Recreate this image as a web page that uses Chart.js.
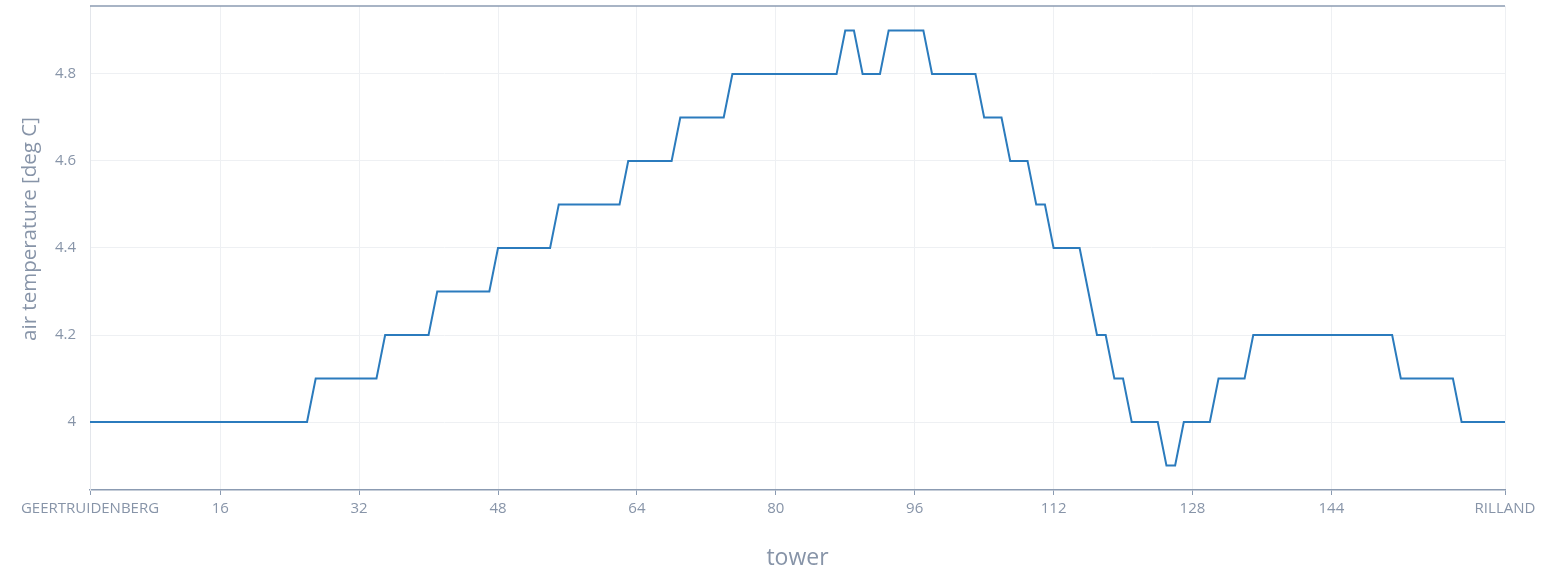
<!DOCTYPE html>
<html>
<head>
<meta charset="utf-8">
<title>Air temperature per tower</title>
<script src="https://cdn.jsdelivr.net/npm/chart.js@4/dist/chart.umd.min.js"></script>
<style>
  html, body { margin: 0; padding: 0; background: #ffffff; }
  #wrap { width: 1557px; height: 574px; position: relative; }
</style>
</head>
<body>
<div id="wrap"><canvas id="chart" width="1557" height="574"></canvas></div>
<script>
// Tower numbers along the line, from GEERTRUIDENBERG (1) to RILLAND (164)
const towers = [
  1, 2, 3, 4, 5, 6, 7, 8, 9, 10, 11, 12, 13, 14, 15, 16, 17, 18, 19, 20,
  21, 22, 23, 24, 25, 26, 27, 28, 29, 30, 31, 32, 33, 34, 35, 36, 37, 38, 39, 40,
  41, 42, 43, 44, 45, 46, 47, 48, 49, 50, 51, 52, 53, 54, 55, 56, 57, 58, 59, 60,
  61, 62, 63, 64, 65, 66, 67, 68, 69, 70, 71, 72, 73, 74, 75, 76, 77, 78, 79, 80,
  81, 82, 83, 84, 85, 86, 87, 88, 89, 90, 91, 92, 93, 94, 95, 96, 97, 98, 99, 100,
  101, 102, 103, 104, 105, 106, 107, 108, 109, 110, 111, 112, 113, 114, 115, 116, 117, 118, 119, 120,
  121, 122, 123, 124, 125, 126, 127, 128, 129, 130, 131, 132, 133, 134, 135, 136, 137, 138, 139, 140,
  141, 142, 143, 144, 145, 146, 147, 148, 149, 150, 151, 152, 153, 154, 155, 156, 157, 158, 159, 160,
  161, 162, 163, 164
];

// Air temperature [deg C] at each tower
const airTemperature = [
  4.0, 4.0, 4.0, 4.0, 4.0, 4.0, 4.0, 4.0, 4.0, 4.0, 4.0, 4.0, 4.0, 4.0, 4.0, 4.0, 4.0, 4.0, 4.0, 4.0,
  4.0, 4.0, 4.0, 4.0, 4.0, 4.0, 4.1, 4.1, 4.1, 4.1, 4.1, 4.1, 4.1, 4.1, 4.2, 4.2, 4.2, 4.2, 4.2, 4.2,
  4.3, 4.3, 4.3, 4.3, 4.3, 4.3, 4.3, 4.4, 4.4, 4.4, 4.4, 4.4, 4.4, 4.4, 4.5, 4.5, 4.5, 4.5, 4.5, 4.5,
  4.5, 4.5, 4.6, 4.6, 4.6, 4.6, 4.6, 4.6, 4.7, 4.7, 4.7, 4.7, 4.7, 4.7, 4.8, 4.8, 4.8, 4.8, 4.8, 4.8,
  4.8, 4.8, 4.8, 4.8, 4.8, 4.8, 4.8, 4.9, 4.9, 4.8, 4.8, 4.8, 4.9, 4.9, 4.9, 4.9, 4.9, 4.8, 4.8, 4.8,
  4.8, 4.8, 4.8, 4.7, 4.7, 4.7, 4.6, 4.6, 4.6, 4.5, 4.5, 4.4, 4.4, 4.4, 4.4, 4.3, 4.2, 4.2, 4.1, 4.1,
  4.0, 4.0, 4.0, 4.0, 3.9, 3.9, 4.0, 4.0, 4.0, 4.0, 4.1, 4.1, 4.1, 4.1, 4.2, 4.2, 4.2, 4.2, 4.2, 4.2,
  4.2, 4.2, 4.2, 4.2, 4.2, 4.2, 4.2, 4.2, 4.2, 4.2, 4.2, 4.1, 4.1, 4.1, 4.1, 4.1, 4.1, 4.1, 4.0, 4.0,
  4.0, 4.0, 4.0, 4.0
];

// Tick positions and names for the ends of the line
const xTickValues = [1, 16, 32, 48, 64, 80, 96, 112, 128, 144, 164];
const endNames = { 1: 'GEERTRUIDENBERG', 164: 'RILLAND' };
const yTickValues = [4.0, 4.2, 4.4, 4.6, 4.8];

const axisTextColor = '#8794a8';
const gridColor = '#eef0f3';
const axisLineColor = '#8b9bb2';
const lineColor = '#2b7bbd';
const fontFamily = '"Open Sans", "DejaVu Sans", sans-serif';
const yTitle = 'air temperature [deg C]';

// Frame line along the top of the plot and the rotated y title
const framePlugin = {
  id: 'frame',
  afterDraw(chart) {
    const { ctx, chartArea } = chart;
    ctx.save();
    ctx.strokeStyle = axisLineColor;
    ctx.lineWidth = 1.5;
    ctx.beginPath();
    ctx.moveTo(chartArea.left, chartArea.top);
    ctx.lineTo(chartArea.right, chartArea.top);
    ctx.stroke();

    ctx.translate(30, 229);
    ctx.rotate(-Math.PI / 2);
    ctx.fillStyle = axisTextColor;
    ctx.font = '20.5px ' + fontFamily;
    ctx.textAlign = 'center';
    ctx.textBaseline = 'middle';
    ctx.fillText(yTitle, 0, 0);
    ctx.restore();
  }
};

new Chart(document.getElementById('chart'), {
  type: 'line',
  data: {
    datasets: [{
      label: 'air temperature',
      data: towers.map((t, i) => ({ x: t, y: airTemperature[i] })),
      borderColor: lineColor,
      borderWidth: 2,
      pointRadius: 0,
      tension: 0,
      fill: false
    }]
  },
  options: {
    responsive: false,
    animation: false,
    layout: { padding: { top: 6, right: 52, left: 0, bottom: 0 } },
    plugins: {
      legend: { display: false },
      tooltip: { enabled: false }
    },
    scales: {
      x: {
        type: 'linear',
        min: 1,
        max: 164,
        afterBuildTicks(scale) {
          scale.ticks = xTickValues.map(v => ({ value: v }));
        },
        afterFit(scale) {
          scale.height = 84;
          scale.paddingLeft = 0;
          scale.paddingRight = 0;
        },
        grid: {
          color: gridColor,
          lineWidth: 1,
          drawTicks: true,
          tickLength: 5,
          tickColor: axisLineColor
        },
        border: { color: axisLineColor, width: 1.5 },
        ticks: {
          color: axisTextColor,
          font: { family: fontFamily, size: 15 },
          padding: 5,
          maxRotation: 0,
          autoSkip: false,
          callback: v => endNames[v] || String(v)
        },
        title: {
          display: true,
          text: 'tower',
          color: axisTextColor,
          font: { family: fontFamily, size: 23 },
          padding: { top: 0, bottom: 2 }
        }
      },
      y: {
        type: 'linear',
        min: 3.8437,
        max: 4.9563,
        afterBuildTicks(scale) {
          scale.ticks = yTickValues.map(v => ({ value: v }));
        },
        afterFit(scale) {
          scale.width = 90;
          scale.paddingTop = 0;
          scale.paddingBottom = 0;
        },
        grid: {
          color: gridColor,
          lineWidth: 1,
          drawTicks: false
        },
        border: { color: '#e3e6eb', width: 1 },
        ticks: {
          color: axisTextColor,
          font: { family: fontFamily, size: 15 },
          padding: 14,
          callback: v => String(+Number(v).toFixed(1))
        }
      }
    }
  },
  plugins: [framePlugin]
});
</script>
</body>
</html>
